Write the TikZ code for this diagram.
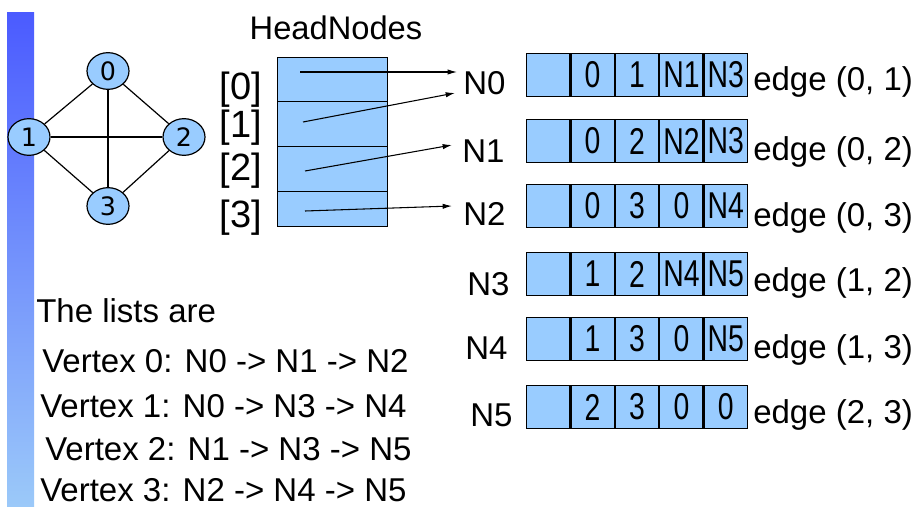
\documentclass[tikz,border=0pt]{standalone}
\usepackage{fontspec}
\setmainfont{Liberation Sans}
\newfontfamily\vtxfont{DejaVu Sans}
\newfontfamily\cellfont[FakeStretch=0.76]{Liberation Sans}
\usetikzlibrary{arrows.meta,shapes.geometric}
\definecolor{cellblue}{HTML}{99CCFF}
\definecolor{bartop}{HTML}{4B5BFF}
\definecolor{barbot}{HTML}{9BC9F9}

\begin{document}
\begin{tikzpicture}[x=0.75pt,y=-0.75pt,
  vtx/.style={ellipse, draw, fill=cellblue, minimum width=31.5pt, minimum height=27.5pt,
    inner sep=0pt, line width=0.9pt, font=\vtxfont\fontsize{19}{20}\selectfont},
  link/.style={line width=0.9pt},
  ptr/.style={line width=0.8pt, -{Latex[length=7pt,width=4pt]}},
  cell/.style={draw, fill=cellblue, minimum width=32.4pt, minimum height=32.25pt,
    inner sep=0pt, line width=0.9pt, font=\cellfont\fontsize{28}{30}\selectfont},
  headcell/.style={draw, fill=cellblue, minimum width=82.5pt, inner sep=0pt,
    line width=0.9pt, anchor=north west},
  lbl/.style={font=\fontsize{24.75}{28}\selectfont, inner sep=0pt},
  idx/.style={font=\fontsize{28.5}{30}\selectfont, inner sep=0pt},
]
\useasboundingbox (0,0) rectangle (919,506);
\fill[white] (0,0) rectangle (919,506);

% side bar
\shade[top color=bartop, bottom color=barbot] (7,13) rectangle (34,506);

% the graph
\node[vtx] (v0) at (108,71)  {0};
\node[vtx] (v1) at (29,137)  {1};
\node[vtx] (v2) at (184,137) {2};
\node[vtx] (v3) at (108,206) {3};
\draw[link] (v0) -- (v1);
\draw[link] (v0) -- (v2);
\draw[link] (v0) -- (v3);
\draw[link] (v1) -- (v2);
\draw[link] (v1) -- (v3);
\draw[link] (v2) -- (v3);

% head nodes array
\node[lbl, font=\fontsize{24.5}{26}\selectfont] (title) at (336,28) {HeadNodes};
\node[headcell, minimum height=33pt]    (h0) at (277,57)  {};
\node[headcell, minimum height=33.75pt] (h1) at (277,101) {};
\node[headcell, minimum height=33.75pt] (h2) at (277,146) {};
\node[headcell, minimum height=26.25pt] (h3) at (277,191) {};

\node[idx] (i0) at (241,90)  {[0]};
\node[idx] (i1) at (241,128) {[1]};
\node[idx] (i2) at (241,171) {[2]};
\node[idx] (i3) at (241,218) {[3]};

% edge nodes
\foreach \r/\top/\a/\b/\c/\d in {0/53/0/1/N1/N3, 1/119/0/2/N2/N3, 2/184/0/3/0/N4,
                                  3/252/1/2/N4/N5, 4/317/1/3/0/N5, 5/385/2/3/0/0}{
  \node[cell, anchor=north west] (r\r c0) at (526,\top) {};
  \node[cell, anchor=north west] (r\r c1) at (r\r c0.north east) {\a};
  \node[cell, anchor=north west] (r\r c2) at (r\r c1.north east) {\b};
  \node[cell, anchor=north west] (r\r c3) at (r\r c2.north east) {\c};
  \node[cell, anchor=north west] (r\r c4) at (r\r c3.north east) {\d};
}

% row names
\node[lbl, anchor=base west] (N0) at (463,95)  {N0};
\node[lbl, anchor=base west] (N1) at (462,162) {N1};
\node[lbl, anchor=base west] (N2) at (463,225) {N2};
\node[lbl, anchor=base west] (N3) at (467,295) {N3};
\node[lbl, anchor=base west] (N4) at (465,359) {N4};
\node[lbl, anchor=base west] (N5) at (470,426) {N5};

% edge captions
\node[lbl, anchor=base west] (e0) at (753,91)  {edge (0, 1)};
\node[lbl, anchor=base west] (e1) at (753,160) {edge (0, 2)};
\node[lbl, anchor=base west] (e2) at (753,226) {edge (0, 3)};
\node[lbl, anchor=base west] (e3) at (753,291) {edge (1, 2)};
\node[lbl, anchor=base west] (e4) at (753,358) {edge (1, 3)};
\node[lbl, anchor=base west] (e5) at (753,423) {edge (2, 3)};

% pointers from the head array
\coordinate (p0) at (300,72);
\coordinate (p1) at (303,122);
\coordinate (p2) at (305,171);
\coordinate (p3) at (305,211);
\coordinate (q0) at (457,72);
\coordinate (q1) at (455,93);
\coordinate (q2) at (452,145);
\coordinate (q3) at (452,206);
\draw[ptr] (p0) -- (q0);
\draw[ptr] (p1) -- (q1);
\draw[ptr] (p2) -- (q2);
\draw[ptr] (p3) -- (q3);

% adjacency lists
\node[lbl, anchor=base west] (t0) at (36,322) {The lists are};
\node[lbl, anchor=base west] (t1) at (42,372) {Vertex 0: N0 -> N1 -> N2};
\node[lbl, anchor=base west] (t2) at (40,417) {Vertex 1: N0 -> N3 -> N4};
\node[lbl, anchor=base west] (t3) at (45,460) {Vertex 2: N1 -> N3 -> N5};
\node[lbl, anchor=base west] (t4) at (40,501) {Vertex 3: N2 -> N4 -> N5};
\end{tikzpicture}
\end{document}
